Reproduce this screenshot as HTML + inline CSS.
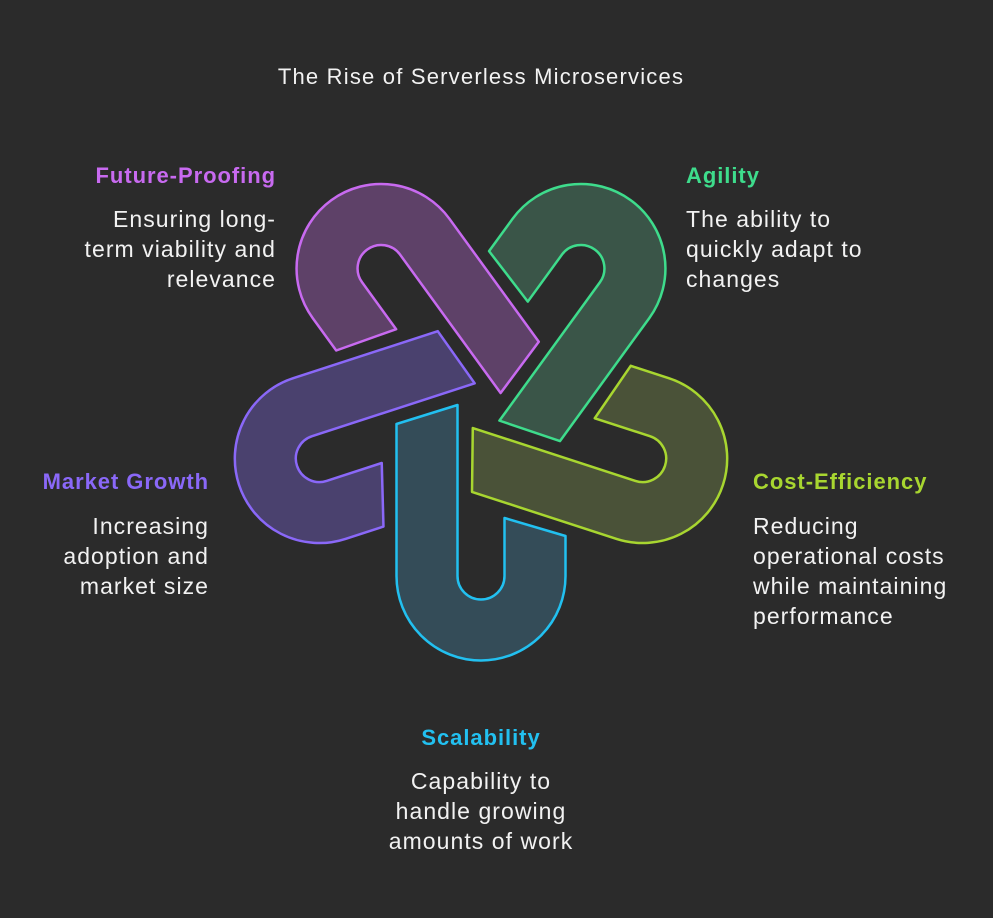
<!DOCTYPE html>
<html><head><meta charset="utf-8"><style>
body{margin:0;background:#2b2b2b;}
svg{display:block}
text{font-family:"Liberation Sans",sans-serif;font-size:23px;fill:#f2f2f2;letter-spacing:1.05px}
.h{font-size:22px;font-weight:bold;letter-spacing:0.95px}
.t{font-size:22px;letter-spacing:1.2px}
</style></head><body>
<svg width="993" height="918" viewBox="0 0 993 918">
<rect width="993" height="918" fill="#2b2b2b"/>
<defs>
<path id="u" d="M -84.5,18 L -84.5,170 A 84.5 84.5 0 0 0 84.5,170 L 84.5,130 L 23.5,112 L 23.5,170 A 23.5 23.5 0 0 1 -23.5,170 L -23.5,-1 Z" stroke-width="2.5" stroke-linejoin="round"/>
</defs>
<g transform="translate(481,406)">
<use href="#u" fill="#344c58" stroke="#22c0f0"/>
<use href="#u" transform="rotate(72)" fill="#4a416e" stroke="#8a68f8"/>
<use href="#u" transform="rotate(144)" fill="#5e4168" stroke="#c86af0"/>
<use href="#u" transform="rotate(216)" fill="#3a5548" stroke="#3edc8c"/>
<use href="#u" transform="rotate(288)" fill="#4a5238" stroke="#a8d630"/>
</g>
<text class="t" x="481" y="84" text-anchor="middle">The Rise of Serverless Microservices</text>
<g text-anchor="end">
<text class="h" x="276" y="183" style="fill:#c86af0">Future-Proofing</text>
<text x="276" y="227">Ensuring long-</text>
<text x="276" y="257">term viability and</text>
<text x="276" y="287">relevance</text>
<text class="h" x="209" y="489" style="fill:#8a68f8">Market Growth</text>
<text x="209" y="534">Increasing</text>
<text x="209" y="564">adoption and</text>
<text x="209" y="594">market size</text>
</g>
<text class="h" x="686" y="183" style="fill:#3edc8c">Agility</text>
<text x="686" y="227">The ability to</text>
<text x="686" y="257">quickly adapt to</text>
<text x="686" y="287">changes</text>
<text class="h" x="753" y="489" style="fill:#a8d630">Cost-Efficiency</text>
<text x="753" y="534">Reducing</text>
<text x="753" y="564">operational costs</text>
<text x="753" y="594">while maintaining</text>
<text x="753" y="624">performance</text>
<g text-anchor="middle">
<text class="h" x="481" y="745" style="fill:#22c0f0">Scalability</text>
<text x="481" y="789">Capability to</text>
<text x="481" y="819">handle growing</text>
<text x="481" y="849">amounts of work</text>
</g>
</svg>
</body></html>
